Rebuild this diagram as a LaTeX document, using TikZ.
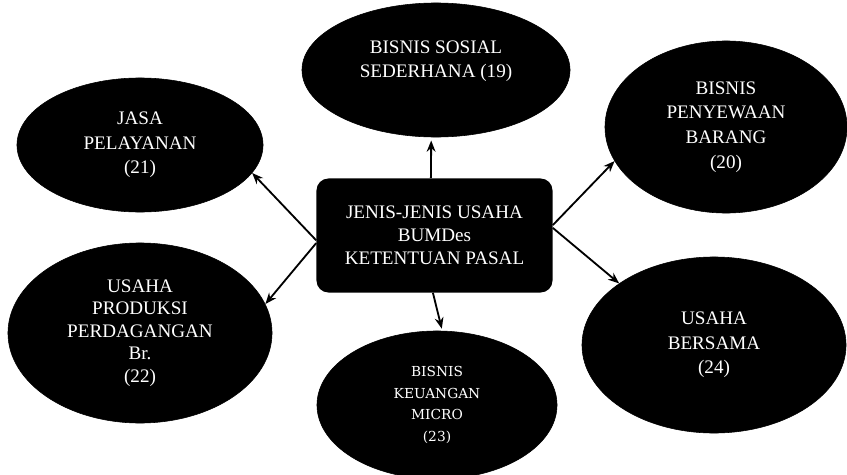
\documentclass[tikz,border=0pt]{standalone}
\usepackage{fontspec}
\setmainfont{Liberation Serif}
\newfontfamily\microfont{DejaVu Serif}
\usetikzlibrary{shapes.geometric,arrows.meta}

\tikzset{
  oval/.style={ellipse,fill=black,draw=black,text=white,align=center,inner sep=0pt,
    font=\fontsize{13.6}{17.5}\selectfont},
  pusat/.style={rectangle,rounded corners=0.3cm,fill=black,text=white,align=center,
    minimum width=5.9cm,minimum height=2.85cm,font=\fontsize{13.6}{16.5}\selectfont},
  panah/.style={-{Stealth[length=0.28cm,width=0.22cm]},line width=1.3pt}
}

\begin{document}
\begin{tikzpicture}[x=0.025cm,y=-0.025cm]
    \useasboundingbox (0,0) rectangle (847,474);

    % tengah
    \node[pusat] (jenis) at (434.5,235.5) {JENIS-JENIS USAHA\\BUMDes\\KETENTUAN PASAL};

    % jenis usaha
    \node[oval,minimum width=6.7cm,minimum height=3.35cm] (sosial) at (436,70)
        {BISNIS SOSIAL\\SEDERHANA (19)\\[-2pt]\mbox{}};
    \node[oval,minimum width=6.15cm,minimum height=3.35cm] (jasa) at (140,145)
        {JASA\\PELAYANAN\\(21)};
    \node[oval,minimum width=6.6cm,minimum height=4.5cm,
        font=\fontsize{13.6}{16}\selectfont] (produksi) at (140,333)
        {USAHA\\PRODUKSI\\PERDAGANGAN\\Br.\\(22)};
    \node[oval,minimum width=6.05cm,minimum height=4.3cm] (sewa) at (726,127)
        {BISNIS\\PENYEWAAN\\BARANG\\(20)};
    \node[oval,minimum width=6.6cm,minimum height=4.4cm] (bersama) at (714,345)
        {USAHA\\BERSAMA\\(24)};
    \node[oval,minimum width=6cm,minimum height=3.7cm,
        font=\microfont\fontsize{9.8}{15.5}\selectfont] (mikro) at (437,405)
        {BISNIS\\KEUANGAN\\MICRO\\(23)};

    % panah
    \draw[panah] ([xshift=-0.09cm]jenis.north) -- ([xshift=-0.12cm,yshift=-0.08cm]sosial.south);
    \draw[panah] ([yshift=-0.12cm]jenis.west) -- (jasa.-14);
    \draw[panah] ([yshift=-0.19cm]jenis.west) -- (produksi.13);
    \draw[panah] ([yshift=0.26cm]jenis.east) -- (sewa.197);
    \draw[panah] ([yshift=0.19cm]jenis.east) -- (bersama.147);
    \draw[panah] ([xshift=-0.04cm]jenis.south) -- ([xshift=0.12cm,yshift=0.05cm]mikro.north);
\end{tikzpicture}
\end{document}
